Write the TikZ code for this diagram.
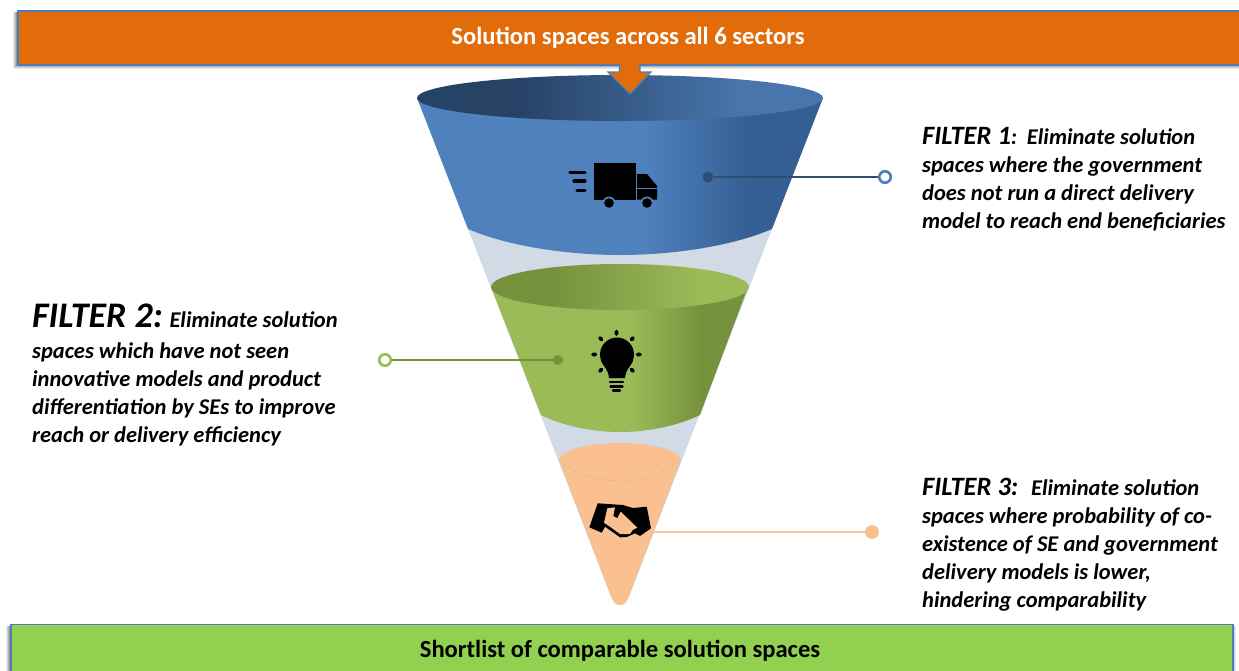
\documentclass[tikz,border=0pt]{standalone}
\usepackage{fontspec}
\setmainfont{Carlito}
\definecolor{bxblue}{HTML}{4A7EBB}
\definecolor{orangebox}{HTML}{E36C0A}
\definecolor{greenbox}{HTML}{92D050}
\definecolor{conegrey}{HTML}{D2DAE6}
\definecolor{peach}{HTML}{FAC090}
\definecolor{bluedark}{HTML}{2F4E74}
\definecolor{greendark}{HTML}{76923C}
\definecolor{greenmid}{HTML}{9BBB59}
\definecolor{blueA}{HTML}{4F81BD}
\definecolor{blueB}{HTML}{355F93}
\definecolor{blueC}{HTML}{264265}
\definecolor{blueD}{HTML}{4875AC}
% TikZ fits the path's box to the 25bp..75bp band of a 100bp shading
\pgfdeclarehorizontalshading{bluebody}{100bp}{color(0bp)=(blueA);color(53bp)=(blueA);color(66bp)=(blueB);color(100bp)=(blueB)}
\pgfdeclarehorizontalshading{bluetop}{100bp}{color(0bp)=(blueC);color(37bp)=(blueC);color(65bp)=(blueD);color(100bp)=(blueD)}
\pgfdeclarehorizontalshading{greenbody}{100bp}{color(0bp)=(greenmid);color(52bp)=(greenmid);color(66bp)=(greendark);color(100bp)=(greendark)}
\pgfdeclarehorizontalshading{greentop}{100bp}{color(0bp)=(greendark);color(37bp)=(greendark);color(66bp)=(greenmid);color(100bp)=(greenmid)}
\tikzset{
  x=1pt,y=-1pt,
  banner/.style={draw=bxblue,line width=1.7pt,minimum height=54pt,inner sep=0pt},
  bannertext/.style={font=\fontsize{24.6}{26}\selectfont\bfseries},
  dotnode/.style={circle,inner sep=0pt,minimum size=#1},
  ringnode/.style={circle,inner sep=0pt,minimum size=11.5pt,fill=white,line width=2.6pt},
  ftext/.style={anchor=north west,align=left,inner sep=0pt,font=\fontsize{22.5}{28}\selectfont\bfseries\itshape},
  lead/.style={line width=1.5pt},
}
\begin{document}
\begin{tikzpicture}
\useasboundingbox (0,0) rectangle (1239,670);
\clip (0,0) rectangle (1239,670);
% soft shadows of the banners
\foreach \o/\t in {4/.08,3/.10,2/.14,1/.18}{
  \fill[black,opacity=\t] (17-\o,12) rectangle (1260,64+\o+1);
  \fill[black,opacity=\t] (10-\o,626) rectangle (1232+\o,680);
}
% funnel: pale cone
\fill[conegrey] (468,229) -- (772,229) -- (628,598) -- (612,598) -- cycle;
% blue section
\begin{scope}
  \clip (417,98) -- (468,229) .. controls (510,247) and (570,255) .. (620,255) .. controls (670,255) and (730,247) .. (772,229) -- (823,98) -- cycle;
  \shade[shading=bluebody] (417,70) rectangle (823,260);
\end{scope}
\begin{scope}
  \clip (620,98) ellipse [x radius=203,y radius=23];
  \shade[shading=bluetop] (417,70) rectangle (823,125);
\end{scope}
% green section
\begin{scope}
  \clip (491,287) -- (541,415) .. controls (565,427) and (595,432) .. (620,432) .. controls (645,432) and (675,427) .. (700,415) -- (748,287) -- cycle;
  \shade[shading=greenbody] (491,260) rectangle (748,435);
\end{scope}
\begin{scope}
  \clip (620,287) ellipse [x radius=129,y radius=23];
  \shade[shading=greentop] (491,260) rectangle (749,312);
\end{scope}
% peach section
\fill[peach] (559,460) .. controls (559,450) and (590,443) .. (620,443) .. controls (650,443) and (681,450) .. (681,460)
  -- (628.3,598) .. controls (626,603) and (624,605) .. (620,605) .. controls (616,605) and (614,603) .. (611.7,598) -- cycle;
\draw[black!22,line width=.3pt] (559,460) -- (611.7,598) (681,460) -- (628.3,598);
\draw[black!30,line width=.4pt,dashed] (559,460) .. controls (575,474) and (600,481) .. (620,481) .. controls (640,481) and (665,474) .. (681,460);
% banners
\node[banner,fill=orangebox,minimum width=1240pt,anchor=north west] (top) at (17,9.8) {};
\node[bannertext,text=white] (toptext) at (628,37.5) {Solution spaces across all 6 sectors};
\node[banner,fill=greenbox,minimum width=1222pt,minimum height=60pt,anchor=north west] (bottom) at (10,623.5) {};
\node[bannertext] (bottomtext) at (620,650.5) {Shortlist of comparable solution spaces};
% down arrow
\fill[orangebox] (619.5,63) -- (619.5,72) -- (608,72) -- (630,94) -- (651,72) -- (640,72) -- (640,63) -- cycle;
\draw[bxblue,line width=1.2pt,line join=miter] (619.5,64) -- (619.5,72) -- (608,72) -- (630,94) -- (651,72) -- (640,72) -- (640,64);
% leader lines
\node[dotnode=11pt,fill=bluedark] (d1) at (708,177) {};
\node[ringnode,draw=bxblue] (r1) at (885,177) {};
\draw[lead,draw=bluedark] (d1) -- (r1);
\node[dotnode=10pt,fill=greendark] (d2) at (558,360) {};
\node[ringnode,draw=greenmid] (r2) at (385,360) {};
\draw[lead,draw=greendark] (d2) -- (r2);
\coordinate (d3) at (653,532);
\node[dotnode=14pt,fill=peach] (r3) at (872,532) {};
\draw[lead,draw=peach,line width=2pt] (d3) -- (r3);
% truck icon
\fill[black] (593.7,163) rectangle (635.7,199.5);
\fill[black] (637,174) -- (647,174) -- (657,186) -- (657,199.5) -- (637,199.5) -- cycle;
\fill[blueA] (637,187.5) rectangle (657,188.7);
\foreach \cx in {609,647}{
  \fill[blueA] (\cx,203) circle [radius=6.5];
  \fill[black] (\cx,203) circle [radius=4.8];
}
\draw[black,line width=3.2pt,line cap=round] (570,172.5) -- (585,172.5) (574,181) -- (585,181) (577,190.5) -- (585,190.5);
% light bulb icon
\fill[black] (617,354.5) circle [radius=17];
\fill[black] (601,361) .. controls (604,367) and (608.5,370) .. (609,378) -- (625,378) .. controls (625.5,370) and (630,367) .. (633,361) -- cycle;
\draw[black,line width=2.4pt,line cap=round] (610,382) -- (623,382) (610.5,386.5) -- (622.5,386.5) (613,390.5) -- (620,390.5);
\draw[black,line width=3.6pt,line cap=round] (616.5,331.5) -- (616.5,334) (593,354.5) -- (595.5,354.5) (637.5,354.5) -- (640,354.5)
  (600,338) -- (601.5,339.5) (633,338) -- (631.5,339.5) (600,371) -- (601.5,369.5) (633,371) -- (631.5,369.5);
% handshake icon
\fill[black] (597.7,503.3) -- (623,505) -- (633,508) -- (646.7,506.7) -- (651,528.3) -- (640,536) -- (635,533.3) -- (626.7,537) -- (620,537.3) -- (605,526.7) -- (601.7,532.7) -- (589.3,527.3) -- cycle;
\fill[peach] (607.3,508.3) -- (615,507.3) -- (613.3,516) -- (617.3,518.3) -- (620.7,511.7) -- (637.3,527.7) -- (632.7,530) -- (630,534) -- (620,534) -- (610,526.7) -- (604,522.7) -- cycle;
% filter texts
\node[ftext] (f1) at (922,127.5) {{\fontsize{26.5}{28}\selectfont FILTER 1}: \hspace{3pt}Eliminate solution\\spaces where the government\\does not run a direct delivery\\model to reach end beneficiaries};
\node[ftext] (f2) at (32,304) {{\fontsize{36}{28}\selectfont FILTER 2:} Eliminate solution\\[3pt]spaces which have not seen\\innovative models and product\\differentiation by SEs to improve\\reach or delivery efficiency};
\node[ftext] (f3) at (922,478) {{\fontsize{26.5}{28}\selectfont FILTER 3:} \hspace{6pt}Eliminate solution\\spaces where probability of co-\\existence of SE and government\\delivery models is lower,\\hindering comparability};
\end{tikzpicture}
\end{document}
